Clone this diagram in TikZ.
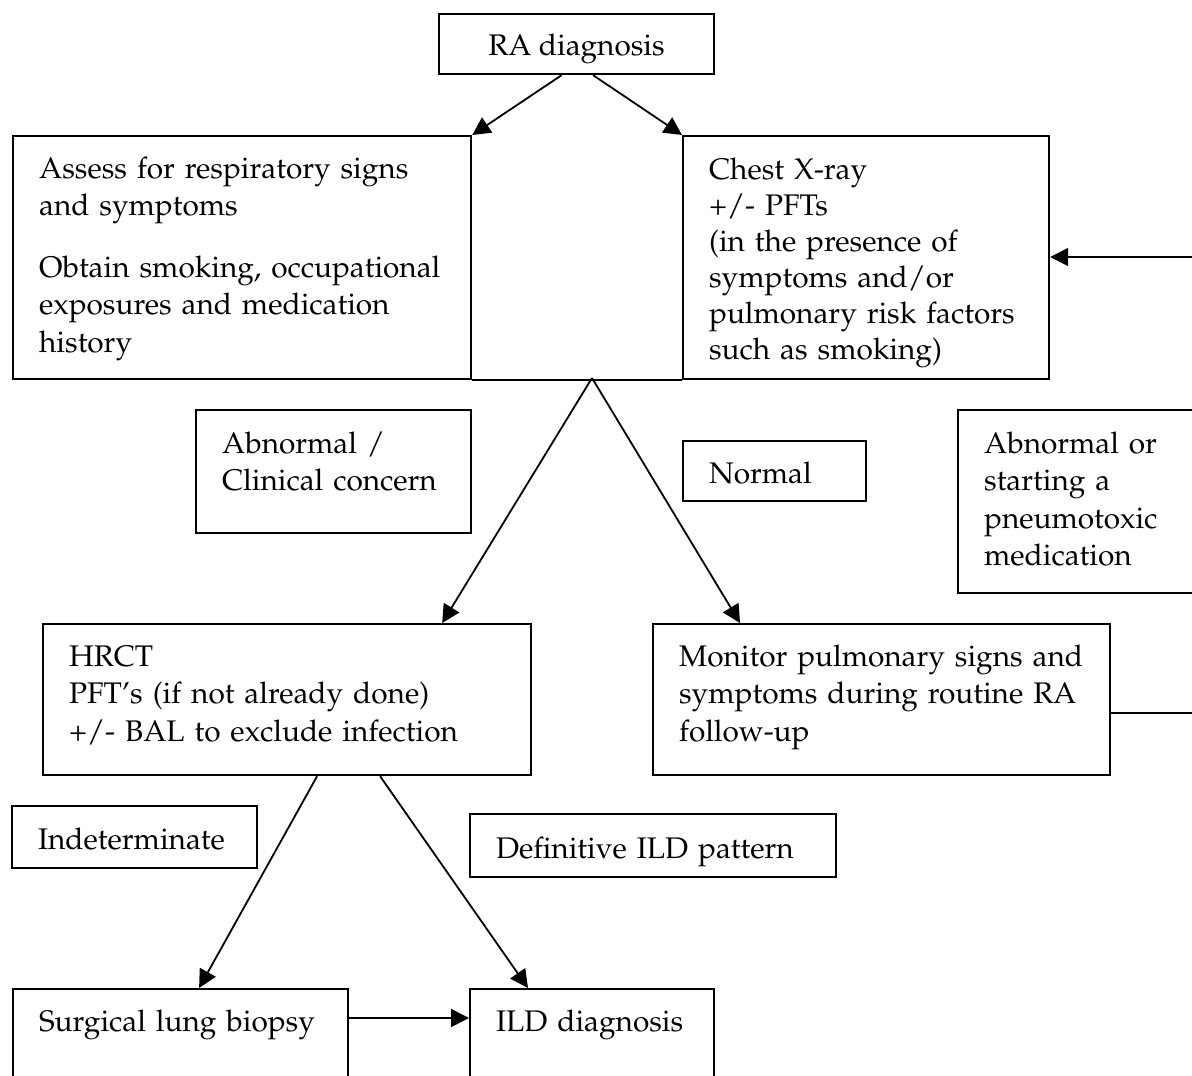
\documentclass[tikz,border=0pt]{standalone}
\usepackage[T1]{fontenc}
\usepackage{mathpazo}
\usetikzlibrary{arrows.meta}

\begin{document}
\begin{tikzpicture}[x=0.5pt,y=-0.5pt,line width=1.1pt,
  flow box/.style={draw,anchor=north west,align=left,inner xsep=13pt,inner ysep=0pt,font=\fontsize{14.9}{18.75}\selectfont}]
\useasboundingbox (0,0) rectangle (1192,1075);
\begin{scope}[every node/.style={flow box}]
\node[align=center,minimum width=137.5pt,inner xsep=0pt,text height=20.5pt,text depth=9.5pt] (ra) at (438,13) {RA diagnosis};%top
\node[text width=203pt,text height=21pt,text depth=100.5pt] (assess) at (12,135) {\mbox{Assess for respiratory signs}\\and symptoms\\[12pt]\mbox{Obtain smoking, occupational}\\exposures and medication\\history};
\node[text width=157pt,text height=21.5pt,text depth=100pt,font=\fontsize{14.9}{18}\selectfont] (chest) at (682,135) {Chest X-ray\\+/- PFTs\\(in the presence of\\symptoms and/or\\\mbox{pulmonary risk factors}\\such as smoking)};
\node[text width=111.5pt,text height=21.5pt,text depth=40pt] (abn) at (195,409) {Abnormal /\\\mbox{Clinical concern}};%labels
\node[text width=65.5pt,text height=21pt,text depth=9pt] (normal) at (682,440) {Normal};
\node[text width=120.5pt,text height=21.5pt,text depth=70pt] (abnmed) at (957,409) {Abnormal or\\starting a\\\mbox{pneumotoxic}\\medication};
\node[text width=218pt,text height=21pt,text depth=54.5pt] (hrct) at (42,623) {HRCT\\PFT's (if not already done)\\\mbox{+/- BAL to exclude infection}};
\node[text width=202.5pt,text height=21pt,text depth=54.5pt] (monitor) at (652,623) {\mbox{Monitor pulmonary signs and}\\\mbox{symptoms during routine RA}\\follow-up};
\node[text width=96.5pt,text height=21.5pt,text depth=9.5pt] (indet) at (11,805) {\mbox{Indeterminate}};
\node[text width=157pt,text height=22pt,text depth=9.5pt] (ildpat) at (469,813) {\mbox{Definitive ILD pattern}};
\node[text width=141.5pt,text height=21pt,text depth=45pt] (biopsy) at (12,988) {\mbox{Surgical lung biopsy}};%bottom
\node[text width=96pt,text height=21pt,text depth=45pt] (ilddx) at (469,988) {\mbox{ILD diagnosis}};
\end{scope}
\draw (assess.south east) -- (chest.south west);
\coordinate (fork) at (592,378);
\coordinate (back) at (1200,500);
\begin{scope}[every edge/.style={draw=black,line width=0.9pt,-{Triangle[length=9pt,width=9pt]}}]
\draw ([xshift=-7.5pt]ra.south) edge (assess.north east);
\draw ([xshift=8.25pt]ra.south) edge (chest.north west);
\draw (fork) edge ([xshift=-45pt]hrct.north east);
\draw (fork) edge ([xshift=44pt]monitor.north west);
\draw ([xshift=15pt]hrct.south) edge ([xshift=9.25pt]biopsy.north);
\draw ([xshift=46.5pt]hrct.south) edge ([xshift=29.5pt]ilddx.north west);
\draw ([yshift=-15pt]biopsy.north east) edge ([yshift=-15pt]ilddx.north west);
\end{scope}
\draw[line width=0.9pt,-{Triangle[length=9pt,width=9pt]}] ([yshift=-45pt]monitor.north east) -| (back) |- ([yshift=-61pt]chest.north east);
\end{tikzpicture}
\end{document}
